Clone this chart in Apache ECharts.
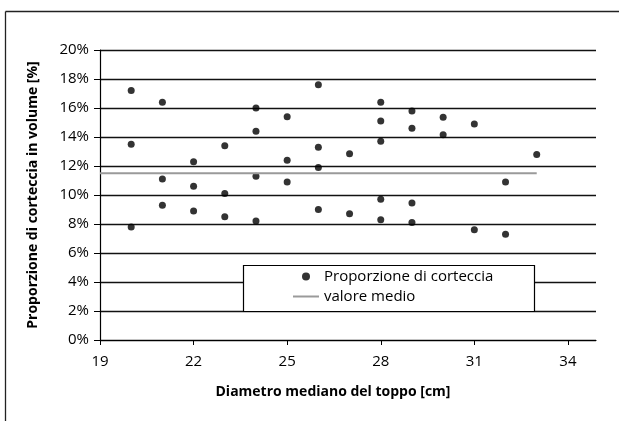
<!DOCTYPE html>
<html><head><meta charset="utf-8">
<script src="https://cdn.jsdelivr.net/npm/echarts@6/dist/echarts.min.js"></script>
<style>html,body{margin:0;padding:0;background:#fff}#c{width:619px;height:421px}</style>
</head><body><div id="c"></div>
<script>
// Data
const diameters = [20,20,20, 21,21,21, 22,22,22, 23,23,23, 24,24,24,24, 25,25,25, 26,26,26,26, 27,27, 28,28,28,28,28, 29,29,29,29, 30,30, 31,31, 32,32, 33];
const barkShare = [17.2,13.5,7.8, 16.4,11.1,9.3, 12.3,10.6,8.9, 13.4,10.1,8.5, 16.0,14.4,11.3,8.2, 15.4,12.4,10.9, 17.6,13.3,11.9,9.0, 12.85,8.7, 16.4,15.1,13.7,9.7,8.3, 15.8,14.6,9.45,8.1, 15.36,14.16, 14.9,7.6, 10.9,7.3, 12.8];
const meanX = [19, 33];
const meanY = [11.5, 11.5];
const xTicks = [19,22,25,28,31,34];
const seriesNames = ['Proporzione di corteccia', 'valore medio'];
const xTitle = 'Diametro mediano del toppo [cm]';
const yTitle = 'Proporzione di corteccia in volume [%]';

const font = 'Open Sans';
const chart = echarts.init(document.getElementById('c'));
chart.setOption({
  animation: false,
  backgroundColor: '#fff',
  grid: {left: 100, top: 50, right: 23, bottom: 81, containLabel: false},
  xAxis: {
    type: 'value', min: 19, max: 34.9,
    axisLine: {show: true, lineStyle: {color: '#000', width: 1.2}},
    axisTick: {show: true, length: 5, lineStyle: {color: '#000'}, customValues: xTicks},
    axisLabel: {customValues: xTicks, color: '#000', fontFamily: font, fontSize: 15, margin: 14},
    splitLine: {show: false},
    name: xTitle, nameLocation: 'middle', nameGap: 45,
    nameTextStyle: {fontFamily: font, fontWeight: 'bold', fontSize: 14, color: '#000', padding: [0, 30, 0, 0]}
  },
  yAxis: {
    type: 'value', min: 0, max: 20, interval: 2,
    axisLine: {show: true, lineStyle: {color: '#000', width: 1.2}},
    axisTick: {show: true, length: 6, lineStyle: {color: '#000'}},
    axisLabel: {formatter: v => v + '%', color: '#000', fontFamily: font, fontSize: 15, margin: 11},
    splitLine: {show: true, lineStyle: {color: '#111', width: 1.4}},
    name: yTitle, nameLocation: 'middle', nameGap: 60, nameRotate: 90,
    nameTextStyle: {fontFamily: font, fontWeight: 'bold', fontSize: 14, color: '#000'}
  },
  legend: {
    orient: 'vertical', left: 293, top: 269, padding: 0,
    itemWidth: 26, itemHeight: 8, itemGap: 5,
    textStyle: {fontFamily: font, fontSize: 15, color: '#000'},
    z: 5,
    data: [
      {name: seriesNames[0], icon: 'circle'},
      {name: seriesNames[1], icon: 'path://M0 0H26V2H0Z'}
    ]
  },
  graphic: [
    {type: 'rect', z: 3, shape: {x: 243.5, y: 265.5, width: 291, height: 46}, style: {fill: '#fff', stroke: '#000', lineWidth: 1.2}},
    {type: 'line', z: 3, shape: {x1: 5.5, y1: 11.5, x2: 619, y2: 11.5}, style: {stroke: '#222', lineWidth: 1.3}},
    {type: 'line', z: 3, shape: {x1: 5.5, y1: 11.5, x2: 5.5, y2: 421}, style: {stroke: '#222', lineWidth: 1.3}}
  ],
  series: [
    {name: seriesNames[0], type: 'scatter', symbol: 'circle', symbolSize: 7,
     itemStyle: {color: '#000'},
     data: diameters.map((d, i) => [d, barkShare[i]])},
    {name: seriesNames[1], type: 'line', symbol: 'none', showSymbol: false,
     lineStyle: {color: '#9a9a9a', width: 2}, itemStyle: {color: '#9a9a9a'},
     data: meanX.map((x, i) => [x, meanY[i]])}
  ]
});
</script></body></html>
